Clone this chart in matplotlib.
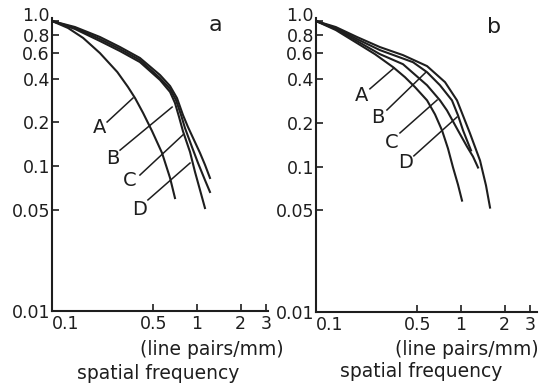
import matplotlib
matplotlib.use("Agg")
import matplotlib.pyplot as plt

ink = "#1e1e1e"

# panel a: response vs spatial frequency (line pairs/mm)
a_A_x = [0.1, 0.129, 0.164, 0.214, 0.282, 0.334, 0.374, 0.425, 0.490, 0.574, 0.652, 0.705]
a_A_y = [1.0, 0.895, 0.764, 0.601, 0.445, 0.351, 0.294, 0.232, 0.174, 0.123, 0.0827, 0.0601]
a_B_x = [0.1, 0.144, 0.214, 0.294, 0.404, 0.556, 0.652, 0.705, 0.752, 0.80, 0.895, 0.969, 1.049, 1.135]
a_B_y = [1.0, 0.881, 0.728, 0.621, 0.521, 0.392, 0.324, 0.272, 0.218, 0.174, 0.125, 0.091, 0.0683, 0.0513]
a_C_x = [0.1, 0.144, 0.214, 0.294, 0.404, 0.556, 0.652, 0.716, 0.776, 0.826, 0.924, 1.016, 1.135, 1.229]
a_C_y = [1.0, 0.895, 0.751, 0.641, 0.538, 0.404, 0.340, 0.285, 0.225, 0.183, 0.135, 0.105, 0.080, 0.0662]
a_D_x = [0.1, 0.144, 0.214, 0.294, 0.404, 0.556, 0.652, 0.728, 0.80, 0.866, 0.969, 1.049, 1.135, 1.229]
a_D_y = [1.0, 0.909, 0.776, 0.662, 0.556, 0.424, 0.356, 0.294, 0.225, 0.186, 0.146, 0.123, 0.102, 0.0827]

# panel b
b_A_x = [0.1, 0.137, 0.192, 0.255, 0.340, 0.411, 0.482, 0.583, 0.662, 0.74, 0.813, 0.881, 0.953, 1.016]
b_A_y = [1.0, 0.867, 0.705, 0.592, 0.482, 0.411, 0.351, 0.285, 0.228, 0.177, 0.133, 0.0984, 0.0751, 0.0583]
b_B_x = [0.1, 0.137, 0.192, 0.276, 0.467, 0.583, 0.716, 0.866, 0.953, 1.033, 1.1, 1.172]
b_B_y = [1.0, 0.895, 0.751, 0.631, 0.521, 0.445, 0.362, 0.285, 0.225, 0.177, 0.151, 0.129]
b_C_x = [0.1, 0.137, 0.192, 0.276, 0.398, 0.583, 0.716, 0.80, 0.953, 1.1, 1.21, 1.31]
b_C_y = [1.0, 0.881, 0.728, 0.592, 0.505, 0.362, 0.285, 0.243, 0.177, 0.137, 0.117, 0.0984]
b_D_x = [0.1, 0.137, 0.192, 0.276, 0.398, 0.583, 0.776, 0.938, 1.153, 1.352, 1.487, 1.585]
b_D_y = [1.0, 0.909, 0.776, 0.662, 0.583, 0.49, 0.380, 0.285, 0.169, 0.110, 0.074, 0.0522]

x_ticks = [0.1, 0.5, 1, 2, 3]
x_tick_labels = ["0.1", "0.5", "1", "2", "3"]
y_ticks = [1.0, 0.8, 0.6, 0.4, 0.2, 0.1, 0.05, 0.01]
y_tick_labels = ["1.0", "0.8", "0.6", "0.4", "0.2", "0.1", "0.05", "0.01"]

plt.rcParams["font.family"] = ["DejaVu Sans"]

fig = plt.figure(figsize=(5.48, 3.87), dpi=100)
ax_a = fig.add_axes([0.0949, 0.1964, 0.3942, 0.7571])
ax_b = fig.add_axes([0.5766, 0.1938, 0.4033, 0.7597])

panels = [
    (ax_a, [(a_A_x, a_A_y), (a_B_x, a_B_y), (a_C_x, a_C_y), (a_D_x, a_D_y)], 3.09,
     "a", (0.755, 0.976),
     [("A", (0.222, 0.625), (0.255, 0.645), (0.375, 0.727)),
      ("B", (0.282, 0.522), (0.315, 0.549), (0.556, 0.696)),
      ("C", (0.361, 0.447), (0.407, 0.464), (0.606, 0.601)),
      ("D", (0.407, 0.345), (0.444, 0.379), (0.639, 0.505))],
     (0.741, -0.133), (0.491, -0.212)),
    (ax_b, [(b_A_x, b_A_y), (b_B_x, b_B_y), (b_C_x, b_C_y), (b_D_x, b_D_y)], 3.34,
     "b", (0.805, 0.969),
     [("A", (0.208, 0.738), (0.244, 0.759), (0.353, 0.830)),
      ("B", (0.281, 0.663), (0.321, 0.687), (0.498, 0.816)),
      ("C", (0.344, 0.578), (0.380, 0.609), (0.548, 0.721)),
      ("D", (0.407, 0.507), (0.443, 0.531), (0.638, 0.663))],
     (0.683, -0.129), (0.475, -0.204)),
]

for ax, curves, xmax, tag, tag_pos, labels, unit_pos, name_pos in panels:
    for xs, ys in curves:
        ax.plot(xs, ys, color=ink, lw=1.5, solid_joinstyle="round")
    ax.set_xscale("log")
    ax.set_yscale("log")
    ax.set_xlim(0.1, xmax)
    ax.set_ylim(0.01, 1.049)
    ax.set_xticks(x_ticks, x_tick_labels)
    ax.set_yticks(y_ticks, y_tick_labels)
    ax.minorticks_off()
    for side in ("top", "right"):
        ax.spines[side].set_visible(False)
    for side in ("left", "bottom"):
        ax.spines[side].set_linewidth(1.5)
        ax.spines[side].set_color(ink)
    ax.tick_params(direction="in", length=5, width=1.2, color=ink,
                   labelsize=12.5, labelcolor=ink)
    ax.tick_params(axis="y", pad=1.5)
    ax.tick_params(axis="x", pad=3)
    for lab in ax.get_yticklabels():
        if lab.get_text() == "1.0":
            lab.set_va("baseline")
    for lab in ax.get_xticklabels():
        if lab.get_text() == "0.1":
            lab.set_ha("left")

    ax.text(*tag_pos, tag, transform=ax.transAxes, fontsize=16, color=ink,
            ha="center", va="center")
    for letter, tpos, p0, p1 in labels:
        ax.text(*tpos, letter, transform=ax.transAxes, fontsize=14, color=ink,
                ha="center", va="center")
        ax.plot([p0[0], p1[0]], [p0[1], p1[1]], transform=ax.transAxes,
                color=ink, lw=1.1, clip_on=False)
    ax.text(*unit_pos, "(line pairs/mm)", transform=ax.transAxes, fontsize=13.5,
            color=ink, ha="center", va="center")
    ax.text(*name_pos, "spatial frequency", transform=ax.transAxes, fontsize=13.5,
            color=ink, ha="center", va="center")

fig.savefig("out.png", dpi=100)
